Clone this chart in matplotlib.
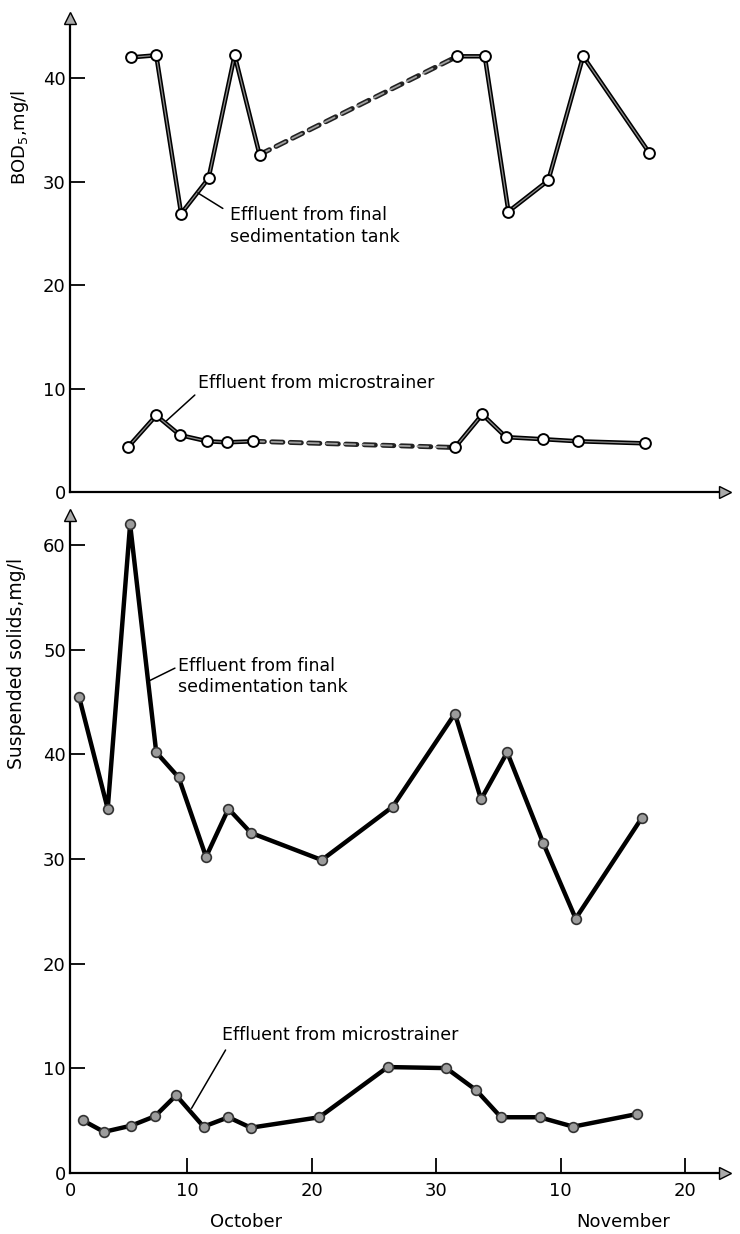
import matplotlib
matplotlib.use("Agg")
import matplotlib.pyplot as plt

# days counted from 1 October (November continues at 31, 41, ...)
bod_tank_days = [5.5, 7.5, 9.5, 11.7, 13.8, 15.8, 31.7, 33.9, 35.8, 39.0, 41.8, 47.1]
bod_tank = [42.0, 42.2, 26.9, 30.3, 42.2, 32.6, 42.1, 42.1, 27.1, 30.1, 42.1, 32.8]
bod_micro_days = [5.2, 7.5, 9.4, 11.6, 13.2, 15.3, 31.5, 33.7, 35.6, 38.6, 41.4, 46.8]
bod_micro = [4.3, 7.4, 5.5, 4.9, 4.8, 4.9, 4.3, 7.5, 5.3, 5.1, 4.9, 4.7]
bod_gap = 5  # last point before the dashed stretch

ss_tank_days = [1.3, 3.6, 5.4, 7.5, 9.3, 11.5, 13.3, 15.1, 20.8, 26.5, 31.5, 33.6,
                35.7, 38.6, 41.2, 46.5]
ss_tank = [45.5, 34.8, 62.0, 40.2, 37.8, 30.2, 34.8, 32.5, 29.9, 35.0, 43.9, 35.7,
           40.2, 31.5, 24.3, 33.9]
ss_micro_days = [1.6, 3.3, 5.5, 7.4, 9.1, 11.3, 13.3, 15.1, 20.6, 26.1, 30.8, 33.2,
                 35.2, 38.3, 41.0, 46.1]
ss_micro = [5.0, 3.9, 4.5, 5.4, 7.4, 4.4, 5.3, 4.3, 5.3, 10.1, 10.0, 7.9, 5.3, 5.3,
            4.4, 5.6]

x_ticks = [0.57, 10, 20, 30, 40, 50]
x_tick_labels = ["0", "10", "20", "30", "10", "20"]
bod_ticks = [0, 10, 20, 30, 40]
ss_ticks = [0, 10, 20, 30, 40, 50, 60]

plt.rcParams["font.family"] = ["DejaVu Sans"]

fig = plt.figure(figsize=(7.4, 12.34), dpi=100)
ax1 = fig.add_axes([70 / 740, 0.6013, 655 / 740, 0.3841])
ax2 = fig.add_axes([70 / 740, 0.0497, 655 / 740, 0.533])

XLIM = (0.57, 53.2)


def style_axes(ax, ymax, yticks):
    ax.set_xlim(*XLIM)
    ax.set_ylim(0, ymax)
    for s in ["top", "right"]:
        ax.spines[s].set_visible(False)
    for s in ["left", "bottom"]:
        ax.spines[s].set_linewidth(1.6)
    ax.set_yticks(yticks)
    ax.tick_params(axis="y", direction="in", length=11, width=1.3, pad=3,
                   labelsize=13)
    # arrow heads at the ends of the axes
    ax.plot(0, 1, marker="^", markersize=8, color="#aaaaaa", mec="black", mew=1,
            transform=ax.transAxes, clip_on=False, zorder=5)
    ax.plot(1, 0, marker=">", markersize=8, color="#aaaaaa", mec="black", mew=1,
            transform=ax.transAxes, clip_on=False, zorder=5)


def double_line(ax, x, y, dashed=False, inner=True):
    kw = dict(solid_capstyle="round", solid_joinstyle="round")
    if dashed:
        ax.plot(x, y, color="#222222", lw=3.6, dashes=(2.2, 1.5),
                dash_capstyle="round", zorder=2)
        ax.plot(x, y, color="#a0a0a0", lw=1.3, dashes=(6.0, 4.1),
                dash_capstyle="round", zorder=3)
    else:
        ax.plot(x, y, color="black", lw=3.2, zorder=2, **kw)
        if inner:
            ax.plot(x, y, color="#8c8c8c", lw=0.9, zorder=3, **kw)


# ---- top panel: BOD5 ----
style_axes(ax1, 45.8, bod_ticks)
ax1.set_xticks([])
g = bod_gap
for xs, ys in [(bod_tank_days, bod_tank), (bod_micro_days, bod_micro)]:
    double_line(ax1, xs[:g + 1], ys[:g + 1])
    double_line(ax1, xs[g:g + 2], ys[g:g + 2], dashed=True)
    double_line(ax1, xs[g + 1:], ys[g + 1:])
    ax1.plot(xs, ys, "o", ms=7.8, mfc="white", mec="black", mew=1.4, zorder=4)

ax1.annotate("", xy=(10.84, 28.9), xytext=(12.85, 27.4),
             arrowprops=dict(arrowstyle="-", lw=1.1, shrinkA=0, shrinkB=0))
ax1.text(13.4, 25.7, "Effluent from final\nsedimentation tank", fontsize=12.5,
         ha="left", va="center", linespacing=1.25)
ax1.annotate("", xy=(8.33, 6.89), xytext=(10.6, 9.37),
             arrowprops=dict(arrowstyle="-", lw=1.1, shrinkA=0, shrinkB=0))
ax1.text(10.87, 10.53, "Effluent from microstrainer", fontsize=12.5,
         ha="left", va="center")

fig.text(20 / 740, 1 - 137 / 1234, "BOD$_5$,mg/l", rotation=90, fontsize=13,
         ha="center", va="center")

# ---- bottom panel: suspended solids ----
style_axes(ax2, 62.9, ss_ticks)
ax2.set_xticks(x_ticks)
ax2.set_xticklabels(x_tick_labels)
ax2.tick_params(axis="x", direction="in", length=11, width=1.3, pad=7,
                labelsize=13)
for xs, ys in [(ss_tank_days, ss_tank), (ss_micro_days, ss_micro)]:
    double_line(ax2, xs, ys, inner=False)
    ax2.plot(xs, ys, "o", ms=7, mfc="#9c9c9c", mec="#333333", mew=1.2, zorder=4)

ax2.annotate("", xy=(6.77, 46.94), xytext=(9.0, 48.25),
             arrowprops=dict(arrowstyle="-", lw=1.1, shrinkA=0, shrinkB=0))
ax2.text(9.26, 47.44, "Effluent from final\nsedimentation tank", fontsize=12.5,
         ha="left", va="center", linespacing=1.25)
ax2.annotate("", xy=(10.34, 6.16), xytext=(13.07, 11.73),
             arrowprops=dict(arrowstyle="-", lw=1.1, shrinkA=0, shrinkB=0))
ax2.text(12.79, 13.16, "Effluent from microstrainer", fontsize=12.5,
         ha="left", va="center")

ax2.text(14.75, -4.68, "October", fontsize=13, ha="center", va="center",
         clip_on=False)
ax2.text(44.98, -4.68, "November", fontsize=13, ha="center", va="center",
         clip_on=False)

fig.text(17 / 740, 1 - 663 / 1234, "Suspended solids,mg/l", rotation=90,
         fontsize=13.5, ha="center", va="center")

fig.savefig("out.png", dpi=100)
